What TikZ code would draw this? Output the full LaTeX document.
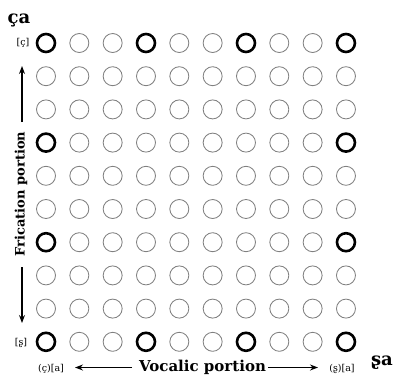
\documentclass[tikz,border=0pt]{standalone}
\usepackage{fontspec}
\setmainfont{DejaVu Serif}
\usetikzlibrary{arrows.meta}
\tikzset{
  lightc/.style={circle,draw=black!50,line width=0.85pt,minimum size=19pt,inner sep=0pt},
  boldc/.style={circle,draw=black,line width=2.6pt,minimum size=18pt,inner sep=0pt},
  axlabel/.style={font=\fontsize{15}{17}\selectfont\bfseries,inner sep=0pt},
  vaxlabel/.style={font=\fontsize{13}{15}\selectfont\bfseries,inner sep=0pt},
  biglabel/.style={font=\fontsize{18}{20}\selectfont\bfseries,inner sep=0pt},
  smalllabel/.style={font=\fontsize{9.5}{11}\selectfont,inner sep=0pt},
  arr/.style={-{Stealth[length=8pt,width=6pt]},line width=1.2pt}
}
\begin{document}
\begin{tikzpicture}[x=1pt,y=-1pt]
\useasboundingbox (0,0) rectangle (396,376);
\foreach \i in {0,...,9}{
  \foreach \j in {0,...,9}{
    \pgfmathtruncatemacro\isbold{or(and(or(\j==0,\j==9),mod(\i,3)==0),and(or(\j==3,\j==6),or(\i==0,\i==9)))}
    \ifnum\isbold=1
      \node[boldc] (c-\i-\j) at ({46+33.33*\i},{43+33.2*\j}) {};
    \else
      \node[lightc] (c-\i-\j) at ({46+33.33*\i},{43+33.2*\j}) {};
    \fi
  }
}
% labels
\node[biglabel] (ca) at (19,20) {ça};
\node[biglabel] (sa) at (382,363) {ʂa};
\node[smalllabel] (lc) at (23,43) {[ç]};
\node[smalllabel] (ls) at (21,343) {[ʂ]};
\node[smalllabel] (la) at (51,369) {(ç)[a]};
\node[smalllabel] (ra) at (342,369) {(ʂ)[a]};
\node[axlabel,anchor=base] (voc) at (202.5,371) {Vocalic portion};
\node[vaxlabel,rotate=90] (fric) at (21,194) {Frication portion};
% arrows
\coordinate (vl1) at (132,367.5);
\coordinate (vl2) at (75,367.5);
\coordinate (vr1) at (268,367.5);
\coordinate (vr2) at (318,367.5);
\coordinate (fu1) at (22,122);
\coordinate (fu2) at (22,66);
\coordinate (fd1) at (22,267);
\coordinate (fd2) at (22,323);
\draw[arr] (vl1) -- (vl2);
\draw[arr] (vr1) -- (vr2);
\draw[arr] (fu1) -- (fu2);
\draw[arr] (fd1) -- (fd2);
\end{tikzpicture}
\end{document}
